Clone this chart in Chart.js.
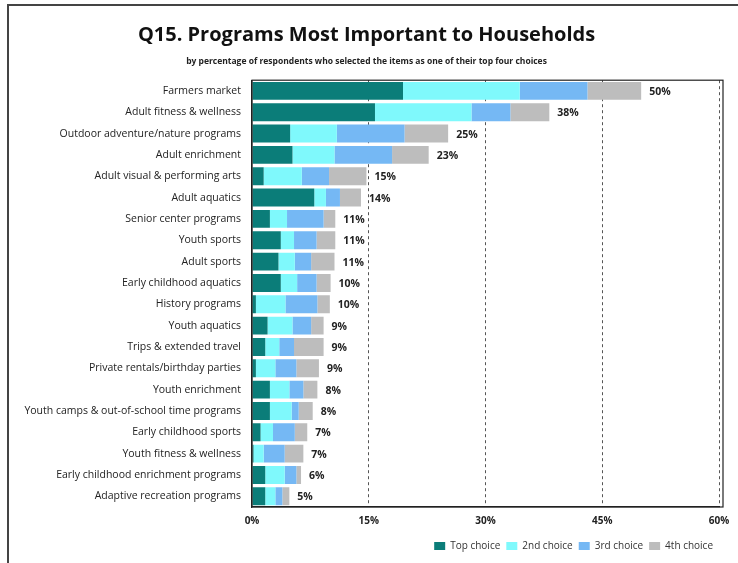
<!DOCTYPE html>
<html>
<head>
<meta charset="utf-8">
<script src="https://cdn.jsdelivr.net/npm/chart.js@4"></script>
<style>
  html,body{margin:0;padding:0;background:#fff;}
  #wrap{width:738px;height:563px;position:relative;}
</style>
</head>
<body>
<div id="wrap"><canvas id="chart" width="738" height="563"></canvas></div>
<script>
// programs, top to bottom
const programs = [
  'Farmers market','Adult fitness & wellness','Outdoor adventure/nature programs','Adult enrichment',
  'Adult visual & performing arts','Adult aquatics','Senior center programs','Youth sports','Adult sports',
  'Early childhood aquatics','History programs','Youth aquatics','Trips & extended travel',
  'Private rentals/birthday parties','Youth enrichment','Youth camps & out-of-school time programs',
  'Early childhood sports','Youth fitness & wellness','Early childhood enrichment programs','Adaptive recreation programs'
];
const topChoice    = [19.4,15.8,4.9,5.2,1.5,8.0,2.3,3.7,3.4,3.7,0.5,2.0,1.7,0.5,2.3,2.3,1.1,0.2,1.7,1.7];
const secondChoice = [15.0,12.4,6.0,5.4,4.9,1.5,2.2,1.7,2.1,2.1,3.8,3.2,1.8,2.5,2.5,2.8,1.6,1.3,2.5,1.3];
const thirdChoice  = [8.7,5.0,8.7,7.4,3.5,1.8,4.7,2.9,2.1,2.5,4.1,2.4,1.9,2.7,1.8,0.9,2.8,2.7,1.5,0.9];
const fourthChoice = [6.9,5.0,5.6,4.7,4.8,2.7,1.5,2.4,3.0,1.8,1.6,1.6,3.8,2.9,1.8,1.8,1.6,2.4,0.6,0.9];
const totalLabels  = ['50%','38%','25%','23%','15%','14%','11%','11%','11%','10%','10%','9%','9%','9%','8%','8%','7%','7%','6%','5%'];
const xTicks = [0,15,30,45,60];

const FONT = "'Open Sans', 'Liberation Sans', sans-serif";

// outer frame + plot box
const framePlugin = {
  id:'frame',
  beforeDraw(chart){
    const c = chart.ctx;
    c.save();
    c.fillStyle = '#fff'; c.fillRect(0,0,chart.width,chart.height);
    c.strokeStyle = '#444'; c.lineWidth = 2;
    c.beginPath(); c.moveTo(8,563); c.lineTo(8,5); c.lineTo(738,5); c.stroke();
    c.restore();
  },
  afterDatasetsDraw(chart){
    const a = chart.chartArea, c = chart.ctx;
    c.save();
    c.strokeStyle = '#222'; c.lineWidth = 1.2;
    c.strokeRect(a.left, a.top, a.right - a.left + 4, a.bottom - a.top);
    c.restore();
  }
};

// total % at end of each bar
const totalPlugin = {
  id:'totals',
  afterDatasetsDraw(chart){
    const c = chart.ctx, meta = chart.getDatasetMeta(3);
    c.save();
    c.font = "bold 10.5px " + FONT;
    c.fillStyle = '#222';
    c.textBaseline = 'middle';
    meta.data.forEach((bar,i)=>{ c.fillText(totalLabels[i], bar.x + 8, bar.y + 1); });
    c.restore();
  }
};

new Chart(document.getElementById('chart'), {
  type:'bar',
  data:{
    labels: programs,
    datasets:[
      {label:'Top choice', data: topChoice, backgroundColor:'#0b7d79'},
      {label:'2nd choice', data: secondChoice, backgroundColor:'#7ff9fc'},
      {label:'3rd choice', data: thirdChoice, backgroundColor:'#75b8f4'},
      {label:'4th choice', data: fourthChoice, backgroundColor:'#bdbdbd'}
    ]
  },
  options:{
    indexAxis:'y',
    responsive:false,
    animation:false,
    barPercentage:0.84,
    categoryPercentage:1,
    layout:{padding:{left:14, right:19, top:0, bottom:2}},
    scales:{
      x:{
        stacked:true, min:0, max:60,
        afterBuildTicks: s => { s.ticks = xTicks.map(v=>({value:v})); },
        ticks:{callback: v => v + '%', font:{family:FONT, size:10, weight:'bold'}, color:'#222', padding:8},
        grid:{color: ctx => ctx.tick && ctx.tick.value === 0 ? 'rgba(0,0,0,0)' : '#555', drawTicks:false, lineWidth:1},
        border:{display:true, color:'#222', width:1.2, dash:[3,3]}
      },
      y:{
        stacked:true,
        afterFit: s => { s.width = 238; },
        ticks:{font:{family:FONT, size:10.5}, color:'#222', padding:11, autoSkip:false},
        grid:{display:false, drawTicks:false},
        border:{color:'#222', width:1.2}
      }
    },
    plugins:{
      title:{display:true, text:'Q15. Programs Most Important to Households',
        font:{family:FONT, size:20, weight:'bold'}, color:'#111', padding:{top:23, bottom:9}},
      subtitle:{display:true, text:'by percentage of respondents who selected the items as one of their top four choices',
        font:{family:FONT, size:8.5, weight:'bold'}, color:'#222', padding:{bottom:14}},
      legend:{position:'bottom', align:'end',
        labels:{font:{family:FONT, size:10}, color:'#333', boxWidth:11, boxHeight:8, padding:6}},
      tooltip:{enabled:false}
    }
  },
  plugins:[framePlugin, totalPlugin]
});
</script>
</body>
</html>
